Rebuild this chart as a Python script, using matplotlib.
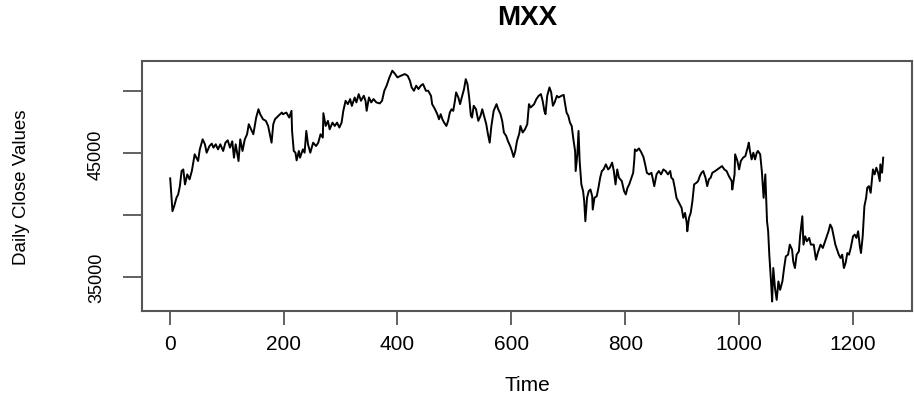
import matplotlib.pyplot as plt

# MXX daily close (time index, value)
time_idx = [
    1, 5, 8, 12, 15, 18, 21, 24, 27, 31, 35, 39, 41, 44, 47, 50, 53, 58, 62, 65,
    70, 74, 77, 81, 85, 89, 94, 98, 102, 106, 110, 113, 116, 121, 124, 128, 132, 136, 139, 143,
    147, 152, 156, 159, 164, 169, 173, 176, 179, 182, 185, 191, 197, 199, 205, 210, 214, 215, 218, 221,
    223, 227, 229, 234, 237, 240, 243, 247, 252, 257, 261, 265, 269, 270, 274, 278, 281, 286, 290, 294,
    298, 302, 305, 309, 313, 317, 320, 325, 328, 332, 336, 341, 344, 346, 350, 354, 358, 363, 369, 373,
    377, 381, 386, 391, 396, 400, 406, 413, 418, 422, 425, 429, 433, 437, 441, 445, 450, 454, 459, 461,
    466, 470, 473, 476, 479, 482, 486, 489, 492, 495, 498, 501, 503, 507, 510, 513, 517, 520, 523, 526,
    529, 531, 534, 538, 542, 546, 549, 552, 556, 559, 562, 565, 569, 574, 577, 581, 584, 587, 591, 594,
    598, 601, 604, 607, 610, 614, 616, 620, 624, 628, 631, 634, 637, 640, 644, 648, 652, 655, 658, 660,
    663, 667, 670, 673, 676, 680, 683, 688, 692, 694, 697, 700, 703, 706, 709, 712, 713, 716, 718, 720,
    723, 726, 728, 730, 733, 736, 739, 742, 743, 746, 750, 753, 756, 759, 762, 766, 770, 773, 777, 780,
    783, 786, 789, 794, 798, 801, 804, 807, 810, 814, 816, 817, 820, 824, 828, 832, 835, 838, 842, 846,
    848, 851, 855, 859, 863, 867, 871, 875, 879, 881, 884, 887, 890, 893, 896, 899, 902, 905, 908, 909,
    912, 915, 918, 921, 925, 928, 931, 934, 937, 941, 944, 947, 950, 953, 958, 962, 966, 970, 974, 978,
    982, 987, 988, 992, 993, 997, 1000, 1003, 1007, 1011, 1015, 1017, 1019, 1022, 1025, 1028, 1031, 1033, 1037, 1040,
    1043, 1046, 1049, 1051, 1053, 1056, 1058, 1060, 1063, 1066, 1069, 1072, 1076, 1079, 1082, 1086, 1089, 1093, 1095, 1098,
    1101, 1105, 1107, 1111, 1113, 1116, 1119, 1123, 1126, 1131, 1135, 1138, 1143, 1147, 1150, 1153, 1157, 1160, 1163, 1166,
    1169, 1172, 1175, 1178, 1181, 1184, 1187, 1190, 1193, 1196, 1200, 1203, 1206, 1209, 1212, 1214, 1217, 1220, 1223, 1225,
    1228, 1231, 1233, 1235, 1238, 1241, 1244, 1247, 1248, 1251, 1253,
]
close_vals = [
    42980, 40330, 40730, 41410, 41680, 42350, 43570, 43700, 42490, 43300, 42900, 43570, 44100, 44920, 44650, 44380, 45320, 46130, 45730, 45050,
    45590, 45780, 45460, 45730, 45320, 45730, 45190, 45860, 46050, 45460, 45970, 44650, 45730, 44380, 46130, 45190, 46130, 46540, 47350, 46940,
    46540, 47890, 48560, 48160, 47750, 47620, 47210, 46540, 45860, 47350, 47750, 48030, 48290, 48160, 48290, 47890, 48430, 46810, 45190, 45050,
    44430, 45190, 44650, 45320, 45050, 46810, 45730, 45050, 45860, 45590, 45860, 46540, 46270, 48240, 47210, 47620, 46940, 47480, 47210, 47480,
    47080, 47480, 48430, 49240, 48970, 49380, 48830, 49510, 49110, 49780, 49240, 49650, 49240, 48430, 49510, 49110, 49380, 49110, 49030, 49240,
    50050, 50460, 51130, 51670, 51400, 51130, 51260, 51400, 51260, 50860, 50320, 50050, 50460, 50190, 50460, 50590, 50050, 50050, 49640, 48970,
    48560, 48160, 47750, 48160, 47750, 47480, 47210, 47620, 48290, 48560, 48430, 49240, 49920, 49510, 48970, 49510, 50190, 50990, 50590, 49510,
    48030, 47890, 48840, 48560, 47620, 48030, 48560, 48030, 47350, 46540, 45860, 47210, 48430, 48970, 48560, 48160, 47620, 46680, 46400, 46000,
    45590, 45190, 44700, 45190, 46000, 46600, 47210, 46680, 46940, 47350, 48970, 48700, 48840, 48970, 49380, 49640, 49780, 49240, 48430, 48160,
    49640, 50320, 49920, 48840, 49110, 49640, 49510, 49640, 49720, 49110, 48290, 48030, 47480, 47210, 46130, 45190, 43570, 44920, 46810, 44380,
    42490, 41950, 41140, 39520, 41410, 41950, 42080, 41540, 40460, 41410, 41540, 42220, 43030, 43570, 43700, 44110, 43700, 43840, 44250, 43570,
    42490, 43700, 43030, 42760, 41950, 41680, 42220, 42490, 42900, 43430, 44510, 45320, 45190, 45400, 45100, 44700, 44110, 43430, 43300, 43430,
    43030, 42350, 43300, 43570, 43300, 43700, 43570, 43300, 43570, 43030, 42900, 42220, 41410, 41140, 40870, 40600, 39790, 40190, 39390, 38710,
    39790, 40190, 41140, 42490, 42620, 42760, 43160, 43430, 43570, 43030, 42350, 42900, 43030, 43430, 43570, 43700, 43840, 43970, 43700, 43570,
    43160, 42760, 42080, 43300, 44920, 44380, 43700, 44380, 44650, 44780, 45460, 45860, 45190, 44510, 45050, 44510, 45050, 45190, 44920, 43500,
    41410, 43300, 39520, 38710, 36820, 34660, 33040, 35740, 34120, 33170, 34660, 33980, 34660, 35740, 36680, 36820, 37630, 37220, 36280, 35740,
    36820, 37090, 38300, 39920, 37630, 38300, 37900, 38170, 37630, 37630, 36410, 36950, 37630, 37360, 37770, 38170, 38710, 39250, 38980, 38300,
    37630, 37220, 36820, 36550, 36820, 35740, 36150, 36950, 36820, 37360, 38300, 38440, 38170, 38710, 37490, 36950, 38300, 40730, 41410, 42220,
    42350, 41810, 42760, 43700, 43300, 43840, 43430, 42760, 44110, 43430, 44650,
]
x_ticks = [0, 200, 400, 600, 800, 1000, 1200]
y_ticks = [35000, 40000, 45000, 50000]
y_tick_labels = ['35000', '', '45000', '']

plt.rcParams['font.family'] = ['Liberation Sans', 'DejaVu Sans']

fig = plt.figure(figsize=(9.14, 4.02), dpi=100)
ax = fig.add_axes([0.155, 0.2246, 0.8425, 0.620])

ax.plot(time_idx, close_vals, color='black', linewidth=1.4)

# R-style 4% padding around the data
tr = max(time_idx) - min(time_idx)
vr = max(close_vals) - min(close_vals)
ax.set_xlim(min(time_idx) - 0.04 * tr, max(time_idx) + 0.04 * tr)
ax.set_ylim(min(close_vals) - 0.04 * vr, max(close_vals) + 0.04 * vr)

ax.set_xticks(x_ticks)
ax.set_xticklabels([str(t) for t in x_ticks])
ax.set_yticks(y_ticks)
ax.set_yticklabels(y_tick_labels, rotation=90, va='center')

edge = '#555555'
for s in ax.spines.values():
    s.set_color(edge)
    s.set_linewidth(1.5)
ax.tick_params(axis='x', length=10, width=1.3, color=edge, labelsize=15, pad=7)
ax.tick_params(axis='y', length=13.5, width=1.3, color=edge, labelsize=13, pad=13)

fig.text(0.5766, 0.955, 'MXX', ha='center', va='center', fontsize=20, fontweight='bold')
fig.text(0.5766, 0.042, 'Time', ha='center', va='center', fontsize=15)
fig.text(22 / 914, 0.535, 'Daily Close Values', ha='center', va='center', rotation=90, fontsize=13.5)

fig.savefig('out.png', dpi=100)
